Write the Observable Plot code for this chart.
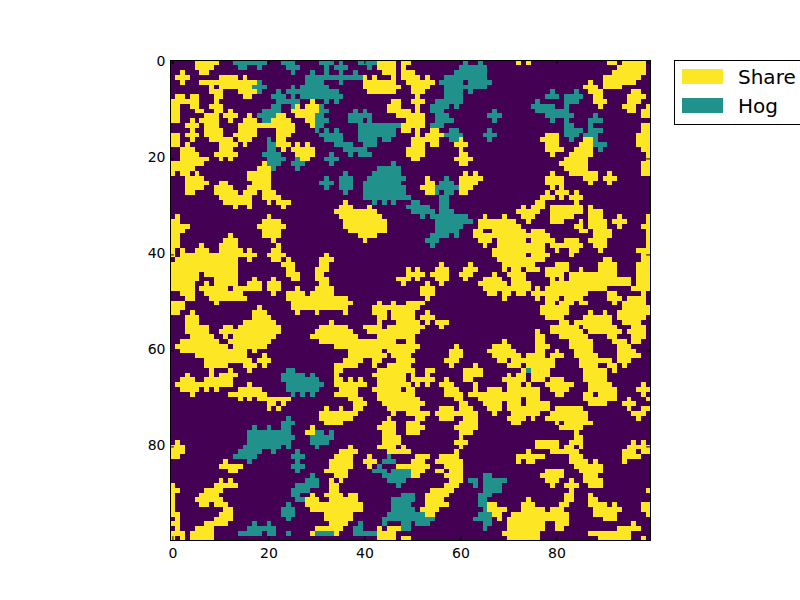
<!DOCTYPE html>
<html><head><meta charset="utf-8">
<script src="https://cdn.jsdelivr.net/npm/d3@7"></script>
<script src="https://cdn.jsdelivr.net/npm/@observablehq/plot@0.6"></script>
<style>
html,body{margin:0;padding:0;background:#fff;overflow:hidden;width:800px;height:600px}
#wrap{position:relative;width:800px;height:600px}
#legend{position:absolute;left:674px;top:60px;width:140px;height:63px;border:1px solid #000;background:#fff;font:20px "DejaVu Sans",sans-serif;color:#000}
#legend i{position:absolute;left:7px;width:41px;height:15px}
#legend span{position:absolute;left:63px;line-height:20px}
</style></head><body><div id="wrap"><div id="legend">
<i style="top:8px;background:#fde725"></i><span style="top:6px">Share</span>
<i style="top:37px;background:#21918c"></i><span style="top:35px">Hog</span>
</div></div>
<script>
const tickValues = [0, 20, 40, 60, 80];
const shareRuns = [
"5-9 43-46 48-49 72 74 91-92 94-98","5-8 43-46 48 93-98","2 6-7 44-46 48-50 92-98","1-3 10-13 15 40 42 46 48-51 53 90-97","2 6-17 40-46 49-54 87 90-96",
"8 10-17 40-47 50-53 86-88 90-93","8-10 14-17 41-46 50-52 87-89 96-97","1-2 4-5 9-10 15-16 51 88-89 95-98","0-5 9 29 46-47 50-52 88-90 95-97","0-1 4-5 8-10 26 28-30 45-47 51 89 94-96 99",
"0-1 5-6 9-10 12 25-30 45-49 51 95-96 98-99","0-1 7-9 11-13 16 22-23 26-29 47-52 98-99","0-1 4 6-9 12 15-17 21-24 28-29 49-52","3-5 7-9 14-25 29 47-52 98-99","4 7-10 14-17 22-25 48-49 51 54-55 98-99",
"0-1 3-5 7-10 13-17 22-24 51 53-56 78-80 97-99","0-1 4 8-12 14-16 22-23 50-55 60 77-80 86-87 97-99","0-1 3 10-13 15 22-24 26 28 50-52 54-55 59-61 78-80 85-87 97-99","2-4 10-12 23 25-29 49-52 60 78-81 84-87 98-99","2-5 9-13 26-29 49-52 60-61 79 83-87 99",
"2-7 10 12 27-28 50-51 59-62 82-86 99","0-6 19 60-61 81-86 98-99","0-4 18-20 82-86 98-99","0 2-3 5 16-20 61 63 79 83-88 91 98-99","3-6 16-20 53 60-64 78-81 86-88 90-92",
"3-7 10-11 17-20 53-54 60-63 78-81 87 91","3-6 9-12 16-20 52-54 60-62 79 81","3-4 9-13 15-17 19-21 53-54 60-61 78 80-82 84","10-16 19-22 77-79 81 83-85","11-16 20 22-24 36 76-77 84",
"13 16 23 35-37 41 73 75-77 79-85 87","34-42 72-76 79-85 87-89","1 20 35-43 65 69 73-75 79-83 87-89 93 99","0-1 19-22 36-44 64-71 74 79-81 85 87-90 92-94 99","0-3 18-23 36-44 64-72 84-85 87-90 93 98-99",
"0-2 19-22 37-44 63-64 67-73 75-77 85-86 88-91 99","0-1 12 19-22 39-42 63-78 88-91 99","0-1 11-13 21 40 64-66 68-73 75-79 82-84 87-90 99","0-1 6 10-13 22 65 68-77 79-85 88-90 99","0 2 5-7 10-14 16 21-22 67-77 80 83-84 89 97-99",
"0 2-17 20-23 32 67-73 75-78 83 98-99","1-13 16 21-22 24 31-33 68-77 90-91 98-99","0-13 23-25 31-32 56 62 69-75 80-82 89-92 97-99","0-13 24-25 30-32 49 51 55-57 61-63 69 71-72 74-76 78-82 85 89-92 97-99","0-5 7-13 24-26 30-31 49-52 54-57 60-62 67 70-73 78-81 83-92 97-99",
"0-5 9-13 17 21 25-26 30-32 47-49 51 55-57 61 65-68 71-73 79 81 83-95 97-99","0-4 7 9-13 16-18 20-22 31-32 48 53 56 64-69 71-74 79-95 97-99","0-4 6-11 13-18 20-22 26 30-33 52-54 65-74 76 78-90 96-99","2-4 7-14 21 24-27 29-33 52-54 66-67 69-70 72-73 75-77 78-86 91-92 98","3-4 8-15 24-36 53 69 76 78-80 82-85 91-93 95-98",
"0-2 9 25-37 43 46 49-52 78-79 81-83 85-86 92 94-98","0-2 18 25-36 42-51 77-82 94-99","0-1 4 17-19 26 30 36 42-44 46-50 53 77-82 87 90 93-99","3-5 17-20 43-44 46-50 52-54 78-81 86-91 93-98","3-5 15-21 33 43 47-51 53 55-57 81-82 84-91 94-97",
"3-7 11-12 14-22 31-36 40-43 45-52 56 79-84 86-92 96-98","3-7 10-22 30-37 41-51 76 79-85 87-93 95-98","4-8 11 13-21 29-38 43-50 76-77 81-86 91-92 96-98","2-9 12-20 31-46 49-50 69 76-77 83-87 92-94 96-97","1-11 13-19 34-44 45-51 59 67-70 76-78 83-87 93-95",
"2-15 17 37-43 45-50 58-60 66-71 76-77 80 84-87 93-96","5-15 19 37-44 46-49 58-60 67-72 74-77 79-81 84-88 93-97","7-16 18-20 36-39 42-43 47-50 57-59 68-69 71-79 85-91 93-95","7-11 15-17 19 34-38 42 45-49 58 63 70-72 74-79 85-88 91-92 94","8 12 16 34-35 43-50 53-54 61-64 73 75-78 86-90 92",
"3 8 10-13 34 42-48 50 53 61-64 70 72-73 75-78 86-90","2-4 7-12 34-35 37 39 43-48 50-54 57 61-62 69-73 75-77 79-81 86-90","1-12 16 34-40 43-49 51 53 56-58 63 70-72 74 78-83 87-91 98","2-5 7 9 14-18 35-38 42-47 49-50 57-59 63 66-68 70-76 79-82 87-92 97-99","4 12-19 34-38 43-50 57-60 62-76 80-81 86-87 89-92 98",
"14 16 18-24 37-39 43-51 59-60 64-72 74-76 86-92 95 99","20-21 23 38-40 44-52 60-61 65-68 70-72 74-78 87-90 94-96","20 22 32 35 38-39 45-51 56-58 60-62 66-68 70-78 80-85 95 98-99","31-38 46 49-53 55-63 67 71-76 79-86 96-98","31-37 45 51-52 56-58 61-63 70-73 75 78-86 97",
"32-35 44-46 49-51 60-63 71-72 80 82-87","29 43-46 49-52 59-63 81-85","28-30 44-46 49-51 60-62 84","29 44-47 60 84-85","1 44-47 59-61 76-80 83-85 96 98",
"0-2 37 43-46 48 60 76-80 82-83 85 95-99","0-2 35-38 45-49 59 74 79-84 94-96 98-99","0-1 34-37 41 51-53 56-59 72-77 83-85 94-97","11 33-37 40-42 50-52 55-60 72 74-75 83-86 88 94","10-14 33-37 41 47-53 57-60 84-89",
"12-13 32-36 48-52 55-56 58-60 78-81 85-89","34-36 49-51 57-60 77-81 86-88","10 12 33 35 58-60 78-80 83 86-89","0 9-13 33-34 57-59 79 82-84 87-89","0-1 7-10 33-34 54-58 83 99",
"0 6-9 29 32-35 37-38 53-57 82-83 87","0 5-10 28-30 33-38 53-56 74 82-83 87-88","0 6-7 9-11 28-39 53-57 66-67 73-75 81-82 87-90 92 98-99","0 11-12 29-39 52-55 66-69 73-77 79-81 88-93 98-99","0-1 10-12 32-37 52-54 67-68 71-82 88-92 99",
"1 9-12 32-37 53-54 68 70-82 90-92","0-1 7-11 33-36 70-77 80-82 96","1 5-8 30-35 43 45-47 70-77 80-81 93-97","0-2 4-8 29-34 43-46 69-76 87-95","0 2 4-8 43-46 48-49 70-76 89-95 98"
];
const hogRuns = [
"13-19 23-25 31-33 35 39-42 61 64","14-15 18 24-26 32 34-36 41 60-65","25 29 32 35 38 59-65","28-39 57-65","18 28-31 35 56-60 62-66",
"17-19 25 27-32 57-65","18 22 24-34 57-60 62 79 84","21-23 25 27-35 57-60 78-80 82-85","22-26 32 34 55-60 76 82-84","21-22 25 31 54-57 59 75-79 82",
"19-22 31-32 38 40 54-56 67 76-82","18-21 30-31 37-41 55-57 66-68 78-83 88","19-20 30-32 37-39 41 55-58 67 79 82 87-89","30-31 39-47 54-56 82-83 87","30 32 34 39-46 58-59 66 82-85 87-89",
"31-35 39-46 57-60 65-67 82-84 86-88","20 32-35 39-42 44-45 58-59 66 83 88","20-21 34-37 40-42 88-90","20-21 36-40 89","19-22 33 37 39-41",
"20-23 26 32-34","20-22 25-27 33 46","21 26 43-47","36 42-47","32 35-37 41-48 57",
"31-33 35-37 40-47 56-58","32 35-37 40-48 55-59","36 40-48 55 57-58","40-49 56-57","42 44 46 50-51 56-57",
"49-53 56-57","50-54 56-58","52 54-61","55-62","55-60",
"55-59","54-57 59","53-55","54","",
"","","","","","","","","","",
"","","","","","","","","","",
"","","","",
"24-25 74","23-27 29","23-30","24-31","24-30",
"25 27 29","","","","",
"24","23-25","17 20 23-24","16-24 30-31 33","16-25 29-33",
"16-24 29-32","15-22 24 30","14-18 21 26","13-17 25-27 45","16 26 44-46",
"25-27 43","26 42-44 46-49","29 44-49 65-66","28-30 45-48 62-63 65-69","26-30 47 63 65-68",
"25-28 65-68","25-26 48-50 64-66","26-27 46-50 64-65","24 46-49 64-65","23-25 46-50 65",
"23-25 45-52 64-66","24 44-54 63-66","17 20 39 44 48-49 51-53 65-66","16-21 38-39 48-49 65","14-18 20-21 24 30-33 38-42"
];
const grid = new Array(10000).fill(0);
function paint(runs, code) {
  runs.forEach((s, r) => s.split(" ").filter(Boolean).forEach(t => {
    const [a, b = a] = t.split("-").map(Number);
    for (let c = a; c <= b; c++) grid[r * 100 + c] = code;
  }));
}
paint(shareRuns, 2);
paint(hogRuns, 1);
const plot = Plot.plot({
  width: 800, height: 600,
  marginLeft: 170, marginRight: 150, marginTop: 60, marginBottom: 60,
  style: {background: "#fff", fontFamily: "DejaVu Sans", color: "#000"},
  x: {domain: [-0.5, 99.5]},
  y: {domain: [99.5, -0.5]},
  color: {type: "ordinal", domain: [0, 1, 2], range: ["#440154", "#21918c", "#fde725"]},
  marks: [
    Plot.raster(grid, {width: 100, height: 100, x1: -0.5, x2: 99.5, y1: -0.5, y2: 99.5, fill: d => d, imageRendering: "pixelated"}),
    Plot.frame({stroke: "#000", strokeWidth: 1}),
    Plot.axisX({anchor: "bottom", ticks: tickValues, tickSize: 0, tickPadding: 8, label: null, fontSize: 14}),
    Plot.axisY({anchor: "left", ticks: tickValues, tickSize: 0, tickPadding: 5, label: null, fontSize: 14, dy: -1}),
    Plot.ruleX(tickValues, {x: d => d, y1: 99.5, y2: 98.7, stroke: "#000"}),
    Plot.ruleX(tickValues, {x: d => d, y1: -0.5, y2: 0.3, stroke: "#000"}),
    Plot.ruleY(tickValues, {y: d => d, x1: -0.5, x2: 0.3, stroke: "#000"}),
    Plot.ruleY(tickValues, {y: d => d, x1: 99.5, x2: 98.7, stroke: "#000"})
  ]
});
document.getElementById("wrap").prepend(plot);
</script></body></html>
